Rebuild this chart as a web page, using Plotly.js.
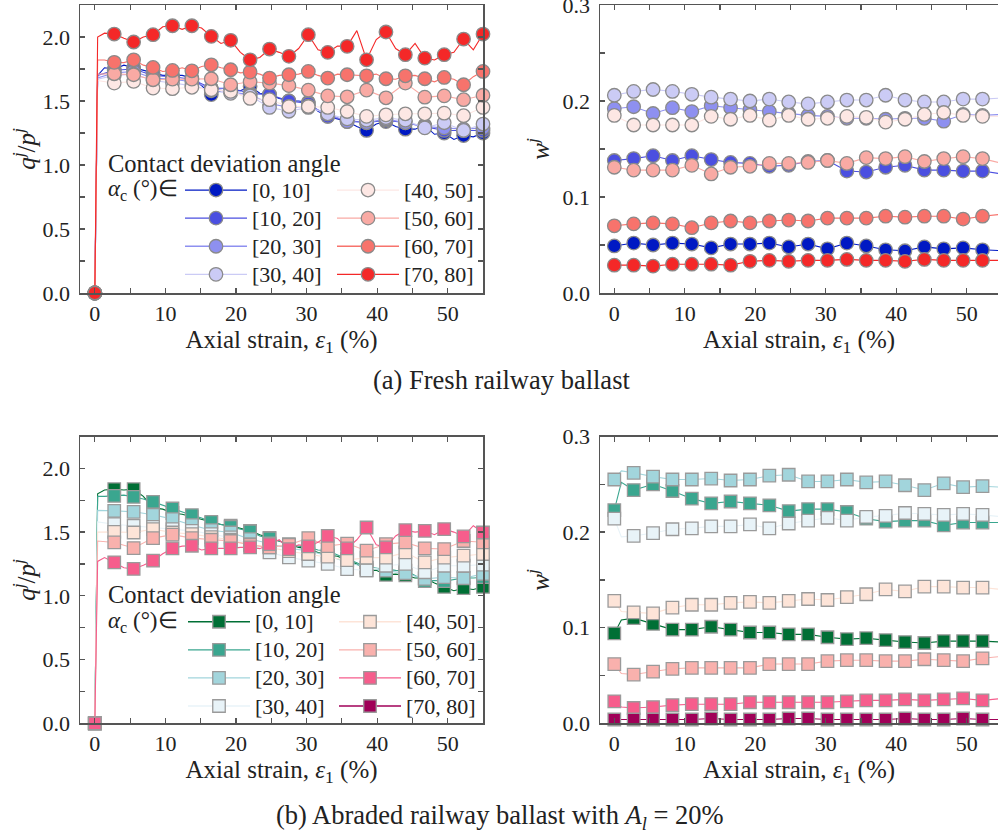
<!DOCTYPE html>
<html><head><meta charset="utf-8">
<script src="https://cdn.plot.ly/plotly-3.0.1.min.js"></script>
<style>html,body{margin:0;padding:0;background:#fff}#chart{width:998px;height:838px}</style>
</head><body><div id="chart"></div><script>
// ---- categories ----
const angleBins = ['[0, 10]', '[10, 20]', '[20, 30]', '[30, 40]', '[40, 50]', '[50, 60]', '[60, 70]', '[70, 80]'];
const freshColors = ['#0019c3', '#4b4fe0', '#8e90f0', '#cbcbf5', '#fde7e4', '#f9aaa4', '#f7736c', '#f42828'];
const abradedColors = ['#006f35', '#3aa68f', '#a2d5dc', '#e8f3f8', '#fde4d8', '#f9b1ad', '#f65d8c', '#a00058'];

// ---- strain values (%) ----
const strain = [0, 2.75, 5.5, 8.25, 11, 13.75, 16.5, 19.25, 22, 24.75, 27.5, 30.25, 33, 35.75, 38.5, 41.25, 44, 46.75, 49.5, 52.25, 55];
const strainMid = [1.375, 4.125, 6.875, 9.625, 12.375, 15.125, 17.875, 20.625, 23.375, 26.125, 28.875, 31.625, 34.375, 37.125, 39.875, 42.625, 45.375, 48.125, 50.875, 53.625];
const jumpStrain = 0.4;
const earlyStrain = 1.0;

// ---- (a) fresh ballast, q/p ----
const freshQP00 = [0, 1.75, 1.76, 1.72, 1.70, 1.68, 1.55, 1.58, 1.615, 1.55, 1.50, 1.49, 1.38, 1.34, 1.27, 1.34, 1.28, 1.31, 1.25, 1.23, 1.25];
const freshQP10 = [0, 1.74, 1.75, 1.70, 1.69, 1.67, 1.60, 1.60, 1.56, 1.55, 1.50, 1.48, 1.38, 1.35, 1.33, 1.35, 1.33, 1.30, 1.27, 1.27, 1.27];
const freshQP20 = [0, 1.72, 1.73, 1.68, 1.67, 1.65, 1.60, 1.57, 1.55, 1.48, 1.45, 1.46, 1.40, 1.34, 1.33, 1.36, 1.33, 1.30, 1.29, 1.28, 1.29];
const freshQP30 = [0, 1.70, 1.71, 1.66, 1.64, 1.62, 1.58, 1.56, 1.54, 1.45, 1.42, 1.45, 1.40, 1.36, 1.35, 1.37, 1.35, 1.29, 1.33, 1.27, 1.32];
const freshQP40 = [0, 1.640, 1.653, 1.601, 1.596, 1.607, 1.588, 1.575, 1.520, 1.510, 1.457, 1.457, 1.450, 1.418, 1.380, 1.392, 1.400, 1.400, 1.405, 1.385, 1.450];
const freshQP50 = [0, 1.713, 1.705, 1.666, 1.671, 1.671, 1.674, 1.627, 1.650, 1.640, 1.620, 1.585, 1.540, 1.533, 1.585, 1.525, 1.640, 1.530, 1.540, 1.510, 1.545];
const freshQP60 = [0, 1.802, 1.822, 1.762, 1.739, 1.736, 1.783, 1.744, 1.726, 1.679, 1.705, 1.731, 1.679, 1.705, 1.697, 1.674, 1.697, 1.674, 1.684, 1.627, 1.731];
const freshQP70 = [0, 2.023, 1.961, 2.018, 2.088, 2.088, 2.005, 1.974, 1.822, 1.906, 1.849, 2.018, 1.880, 1.927, 1.822, 2.039, 1.862, 1.835, 1.862, 1.984, 2.023];
const freshQPStart = [1.70, 1.70, 1.68, 1.67, 1.66, 1.71, 1.82, 2.00];
const freshQPMid00 = [1.76, 1.78, 1.74, 1.70, 1.70, 1.62, 1.58, 1.58, 1.56, 1.52, 1.50, 1.42, 1.36, 1.30, 1.32, 1.30, 1.28, 1.24, 1.20, 1.22];
const freshQPMid60 = [1.82, 1.80, 1.78, 1.73, 1.76, 1.77, 1.76, 1.72, 1.71, 1.70, 1.71, 1.70, 1.71, 1.70, 1.71, 1.67, 1.70, 1.65, 1.67, 1.69];
const freshQPMid70 = [2.03, 1.99, 2.00, 2.08, 2.06, 2.07, 1.95, 1.88, 1.84, 1.88, 1.91, 1.90, 1.93, 2.05, 1.98, 1.91, 1.95, 1.82, 1.88, 1.90];

// ---- (a) fresh ballast, w ----
const freshW00 = [0.049, 0.052, 0.050, 0.052, 0.051, 0.047, 0.051, 0.051, 0.052, 0.048, 0.051, 0.046, 0.052, 0.049, 0.045, 0.044, 0.048, 0.046, 0.047, 0.045, 0.044];
const freshW10 = [0.138, 0.140, 0.143, 0.138, 0.143, 0.139, 0.136, 0.135, 0.132, 0.133, 0.137, 0.138, 0.127, 0.126, 0.131, 0.133, 0.128, 0.128, 0.127, 0.127, 0.124];
const freshW20 = [0.192, 0.194, 0.187, 0.193, 0.189, 0.195, 0.193, 0.191, 0.189, 0.187, 0.185, 0.184, 0.182, 0.182, 0.181, 0.182, 0.182, 0.179, 0.186, 0.185, 0.186];
const freshW30 = [0.206, 0.210, 0.212, 0.210, 0.207, 0.204, 0.202, 0.200, 0.202, 0.199, 0.197, 0.199, 0.201, 0.201, 0.206, 0.201, 0.199, 0.199, 0.202, 0.202, 0.203];
const freshW40 = [0.185, 0.175, 0.175, 0.175, 0.175, 0.184, 0.181, 0.185, 0.180, 0.185, 0.181, 0.182, 0.184, 0.183, 0.178, 0.181, 0.186, 0.188, 0.185, 0.184, 0.184];
const freshW50 = [0.131, 0.128, 0.128, 0.128, 0.133, 0.124, 0.131, 0.132, 0.135, 0.135, 0.136, 0.138, 0.135, 0.141, 0.140, 0.142, 0.137, 0.140, 0.142, 0.140, 0.135];
const freshW60 = [0.070, 0.072, 0.073, 0.072, 0.068, 0.073, 0.075, 0.073, 0.075, 0.076, 0.075, 0.078, 0.078, 0.078, 0.080, 0.079, 0.080, 0.080, 0.077, 0.080, 0.082];
const freshW70 = [0.029, 0.029, 0.028, 0.030, 0.030, 0.030, 0.029, 0.033, 0.034, 0.033, 0.034, 0.034, 0.035, 0.034, 0.034, 0.033, 0.035, 0.034, 0.034, 0.034, 0.034];

// ---- (b) abraded ballast, q/p ----
const abrQP00 = [0, 1.837, 1.837, 1.69, 1.65, 1.62, 1.575, 1.55, 1.51, 1.455, 1.40, 1.37, 1.32, 1.28, 1.20, 1.165, 1.16, 1.14, 1.07, 1.06, 1.07];
const abrQP10 = [0, 1.784, 1.776, 1.737, 1.685, 1.633, 1.58, 1.541, 1.505, 1.45, 1.406, 1.38, 1.354, 1.289, 1.22, 1.21, 1.198, 1.115, 1.115, 1.141, 1.146];
const abrQP20 = [0, 1.667, 1.659, 1.636, 1.602, 1.555, 1.515, 1.497, 1.445, 1.411, 1.372, 1.354, 1.315, 1.263, 1.224, 1.198, 1.177, 1.133, 1.146, 1.138, 1.172];
const abrQP30 = [0, 1.562, 1.549, 1.541, 1.523, 1.51, 1.484, 1.458, 1.406, 1.341, 1.302, 1.276, 1.25, 1.21, 1.20, 1.236, 1.25, 1.185, 1.236, 1.236, 1.245];
const abrQP40 = [0, 1.502, 1.497, 1.523, 1.497, 1.484, 1.46, 1.44, 1.40, 1.38, 1.35, 1.328, 1.307, 1.28, 1.30, 1.30, 1.341, 1.263, 1.30, 1.315, 1.328];
const abrQP50 = [0, 1.419, 1.375, 1.453, 1.48, 1.453, 1.44, 1.43, 1.40, 1.38, 1.40, 1.453, 1.39, 1.41, 1.354, 1.406, 1.419, 1.372, 1.367, 1.43, 1.42];
const abrQP60 = [0, 1.263, 1.211, 1.276, 1.372, 1.393, 1.372, 1.372, 1.38, 1.406, 1.367, 1.388, 1.471, 1.372, 1.536, 1.38, 1.515, 1.51, 1.523, 1.466, 1.497];
const abrQPStart = [1.80, 1.78, 1.67, 1.58, 1.50, 1.43, 1.27];
const abrQPMid00 = [1.83, 1.83, 1.78, 1.68, 1.64, 1.60, 1.56, 1.53, 1.48, 1.43, 1.38, 1.34, 1.31, 1.25, 1.20, 1.17, 1.14, 1.10, 1.04, 1.05];
const abrQPMid10 = [1.78, 1.79, 1.76, 1.71, 1.66, 1.61, 1.56, 1.52, 1.47, 1.43, 1.39, 1.36, 1.32, 1.26, 1.22, 1.20, 1.16, 1.12, 1.13, 1.14];
const abrQPMid60 = [1.30, 1.22, 1.24, 1.33, 1.39, 1.36, 1.37, 1.38, 1.37, 1.44, 1.40, 1.42, 1.45, 1.44, 1.40, 1.47, 1.50, 1.48, 1.50, 1.55];

// ---- (b) abraded ballast, w ----
const abrW00 = [0.094, 0.110, 0.104, 0.098, 0.098, 0.101, 0.098, 0.095, 0.095, 0.093, 0.093, 0.090, 0.088, 0.089, 0.087, 0.085, 0.084, 0.086, 0.086, 0.086, 0.085];
const abrW10 = [0.223, 0.244, 0.250, 0.243, 0.235, 0.230, 0.232, 0.230, 0.228, 0.222, 0.224, 0.224, 0.221, 0.214, 0.211, 0.212, 0.212, 0.207, 0.210, 0.210, 0.210];
const abrW20 = [0.255, 0.262, 0.258, 0.255, 0.255, 0.256, 0.254, 0.255, 0.259, 0.260, 0.253, 0.253, 0.255, 0.252, 0.253, 0.249, 0.244, 0.251, 0.247, 0.248, 0.247];
const abrW30 = [0.214, 0.196, 0.199, 0.203, 0.204, 0.206, 0.206, 0.208, 0.204, 0.209, 0.212, 0.215, 0.212, 0.216, 0.217, 0.220, 0.219, 0.218, 0.219, 0.218, 0.216];
const abrW40 = [0.128, 0.116, 0.115, 0.121, 0.124, 0.124, 0.126, 0.127, 0.126, 0.128, 0.130, 0.129, 0.132, 0.135, 0.140, 0.138, 0.143, 0.143, 0.142, 0.142, 0.140];
const abrW50 = [0.062, 0.051, 0.054, 0.057, 0.058, 0.058, 0.058, 0.058, 0.062, 0.062, 0.062, 0.065, 0.066, 0.066, 0.065, 0.065, 0.067, 0.066, 0.065, 0.068, 0.070];
const abrW60 = [0.023, 0.016, 0.017, 0.019, 0.020, 0.020, 0.020, 0.022, 0.022, 0.022, 0.022, 0.022, 0.023, 0.024, 0.024, 0.025, 0.024, 0.025, 0.026, 0.024, 0.026];
const abrW70 = [0.004, 0.004, 0.004, 0.004, 0.004, 0.005, 0.004, 0.004, 0.004, 0.005, 0.005, 0.004, 0.004, 0.004, 0.004, 0.005, 0.004, 0.004, 0.005, 0.004, 0.004];
const abrWEarly = [0.108, 0.252, 0.264, 0.195, 0.117, 0.052, 0.017, 0.004];

// ---- assemble ----
const SERIF = 'Liberation Serif';
const freshQP = [freshQP00, freshQP10, freshQP20, freshQP30, freshQP40, freshQP50, freshQP60, freshQP70];
const freshQPMids = [freshQPMid00, null, null, null, null, null, freshQPMid60, freshQPMid70];
const freshW = [freshW00, freshW10, freshW20, freshW30, freshW40, freshW50, freshW60, freshW70];
const abrQP = [abrQP00, abrQP10, abrQP20, abrQP30, abrQP40, abrQP50, abrQP60];
const abrQPMids = [abrQPMid00, abrQPMid10, null, null, null, null, abrQPMid60];
const abrW = [abrW00, abrW10, abrW20, abrW30, abrW40, abrW50, abrW60, abrW70];

function qpLine(vals, start, mids) {
  const x = [0, jumpStrain], y = [0, start];
  for (let i = 1; i < strain.length; i++) {
    if (mids) { x.push(strainMid[i - 1]); y.push(mids[i - 1]); }
    x.push(strain[i]); y.push(vals[i]);
  }
  return {x, y};
}
function wLine(vals, early) {
  const x = [strain[0]], y = [vals[0]];
  if (early !== undefined) { x.push(earlyStrain); y.push(early); }
  for (let i = 1; i < strain.length; i++) { x.push(strain[i]); y.push(vals[i]); }
  return {x, y};
}

const traces = [];
function addSeries(line, vals, color, sym, xa, ya, msize, mline) {
  traces.push({type: 'scatter', mode: 'lines', x: line.x, y: line.y, xaxis: xa, yaxis: ya,
    line: {color: color, width: 1.1}, showlegend: false, hoverinfo: 'skip'});
  traces.push({type: 'scatter', mode: 'markers', x: strain, y: vals, xaxis: xa, yaxis: ya, cliponaxis: false,
    marker: {symbol: sym, size: msize, color: color, line: {color: mline, width: 1.3}}, showlegend: false});
}
const CIRC = 13.5, SQ = 12.5;
for (let k = 0; k < 8; k++) {
  addSeries(qpLine(freshQP[k], freshQPStart[k], freshQPMids[k]), freshQP[k], freshColors[k], 'circle', 'x', 'y', CIRC, '#8a8a8a');
}
for (let k = 0; k < 8; k++) {
  addSeries(wLine(freshW[k]), freshW[k], freshColors[k], 'circle', 'x2', 'y2', CIRC, '#8a8a8a');
}
for (let k = 0; k < 7; k++) {
  addSeries(qpLine(abrQP[k], abrQPStart[k], abrQPMids[k]), abrQP[k], abradedColors[k], 'square', 'x3', 'y3', SQ, '#9a9a9a');
}
for (let k = 0; k < 8; k++) {
  addSeries(wLine(abrW[k], abrWEarly[k]), abrW[k], abradedColors[k], 'square', 'x4', 'y4', SQ, '#9a9a9a');
}
// legend entries
const LEGFONT = 22;
for (let k = 0; k < 8; k++) {
  traces.push({type: 'scatter', mode: 'lines+markers', x: [null], y: [null], xaxis: 'x', yaxis: 'y',
    name: '<span style="font-size:' + LEGFONT + 'px">' + angleBins[k] + '</span>',
    legend: k < 4 ? 'legend' : 'legend2',
    line: {color: freshColors[k], width: 1.3},
    marker: {symbol: 'circle', size: CIRC, color: freshColors[k], line: {color: '#8a8a8a', width: 1.3}}});
}
for (let k = 0; k < 8; k++) {
  traces.push({type: 'scatter', mode: 'lines+markers', x: [null], y: [null], xaxis: 'x3', yaxis: 'y3',
    name: '<span style="font-size:' + LEGFONT + 'px">' + angleBins[k] + '</span>',
    legend: k < 4 ? 'legend3' : 'legend4',
    line: {color: abradedColors[k], width: 1.3},
    marker: {symbol: 'square', size: SQ, color: abradedColors[k], line: {color: '#9a9a9a', width: 1.3}}});
}

const W = 998, H = 838;
const px = v => v / W, py = v => (H - v) / H;
const AX = '#555';
const TICKFS = 22, TITLEFS = 25, CAPFS = 26.5, LEGTITLEFS = 24.5;
function xAxis(dom, range, anchor, mirror) {
  return {domain: dom, range: range, anchor: anchor, showline: true, linecolor: AX, linewidth: 1.5, mirror: mirror,
    ticks: 'inside', ticklen: 5, tickwidth: 1.2, tickcolor: AX, tick0: 0, dtick: 10,
    minor: {dtick: 5, ticks: 'inside', ticklen: 5, tickwidth: 1.2, tickcolor: AX},
    showgrid: false, zeroline: false, tickfont: {family: SERIF, size: TICKFS, color: '#222'},
    title: {text: 'Axial strain, <i>ε</i><sub>1</sub> (%)', font: {family: SERIF, size: TITLEFS, color: '#222'}, standoff: 4}};
}
function yAxis(dom, range, anchor, mirror, dt, title, fmt, so) {
  return {domain: dom, range: range, anchor: anchor, showline: true, linecolor: AX, linewidth: 1.5, mirror: mirror,
    ticks: 'inside', ticklen: 5, tickwidth: 1.2, tickcolor: AX, tick0: 0, dtick: dt, tickformat: fmt,
    minor: {dtick: dt / 2, ticks: 'inside', ticklen: 5, tickwidth: 1.2, tickcolor: AX},
    showgrid: false, zeroline: false, tickfont: {family: SERIF, size: TICKFS, color: '#222'}, ticklabelstandoff: 4,
    ticklabeloverflow: 'allow',
    title: {text: title, font: {family: SERIF, size: TITLEFS, color: '#222'}, standoff: so}};
}
const qpTitle = '<i>q</i><sup><i>j</i></sup>/<i>p</i><sup><i>j</i></sup>';
const wTitle = '<i>w</i><sup><i>j</i></sup>';
const leftX = [px(80), px(483)], rightX = [px(600), 1];
const topY = [py(293), py(5)], botY = [py(723.3), py(436.5)];

const legBase = {bgcolor: 'rgba(0,0,0,0)', borderwidth: 0, font: {family: SERIF, size: 19.3, color: '#222'},
  itemwidth: 62, itemclick: false, itemdoubleclick: false, xanchor: 'left', yanchor: 'top', traceorder: 'normal'};
const legTitleFont = {family: SERIF, size: LEGTITLEFS, color: '#222'};
const alphaFont = {family: SERIF, size: 23, color: '#222'};
const capFont = {family: SERIF, size: CAPFS, color: '#222'};
const layout = {
  width: W, height: H, margin: {l: 0, r: 0, t: 0, b: 0}, paper_bgcolor: '#fff', plot_bgcolor: '#fff',
  font: {family: SERIF, size: TICKFS, color: '#222'}, hovermode: false,
  xaxis: xAxis(leftX, [-2.1, 55], 'y', 'ticks'),
  yaxis: yAxis(topY, [0, 2.25], 'x', 'ticks', 0.5, qpTitle, '.1f', 0),
  xaxis2: xAxis(rightX, [-2.03, 54.45], 'y2', 'ticks'),
  yaxis2: yAxis(topY, [0, 0.3], 'x2', false, 0.1, wTitle, '.1f', 6),
  xaxis3: xAxis(leftX, [-2.1, 55], 'y3', 'ticks'),
  yaxis3: yAxis(botY, [0, 2.25], 'x3', 'ticks', 0.5, qpTitle, '.1f', 0),
  xaxis4: xAxis(rightX, [-2.03, 54.45], 'y4', 'ticks'),
  yaxis4: yAxis(botY, [0, 0.3], 'x4', false, 0.1, wTitle, '.1f', 6),
  legend: Object.assign({}, legBase, {x: px(180), y: py(171)}),
  legend2: Object.assign({}, legBase, {x: px(332), y: py(171)}),
  legend3: Object.assign({}, legBase, {x: px(183), y: py(602.7)}),
  legend4: Object.assign({}, legBase, {x: px(334), y: py(602.7)}),
  annotations: [
    {xref: 'paper', yref: 'paper', x: px(106), y: py(163), xanchor: 'left', yanchor: 'middle', showarrow: false, text: 'Contact deviation angle', font: legTitleFont},
    {xref: 'paper', yref: 'paper', x: px(106), y: py(190), xanchor: 'left', yanchor: 'middle', showarrow: false, text: '<i>α</i><sub>c</sub> (°)∈', font: alphaFont},
    {xref: 'paper', yref: 'paper', x: px(106), y: py(595), xanchor: 'left', yanchor: 'middle', showarrow: false, text: 'Contact deviation angle', font: legTitleFont},
    {xref: 'paper', yref: 'paper', x: px(106), y: py(621.7), xanchor: 'left', yanchor: 'middle', showarrow: false, text: '<i>α</i><sub>c</sub> (°)∈', font: alphaFont},
    {xref: 'paper', yref: 'paper', x: px(502), y: py(380), xanchor: 'center', yanchor: 'middle', showarrow: false, text: '(a) Fresh railway ballast', font: capFont},
    {xref: 'paper', yref: 'paper', x: px(500), y: py(817), xanchor: 'center', yanchor: 'middle', showarrow: false, text: '(b) Abraded railway ballast with <i>A</i><sub><i>l</i></sub> = 20%', font: capFont}
  ]
};
Plotly.newPlot('chart', traces, layout, {displayModeBar: false, staticPlot: true});
</script></body></html>
